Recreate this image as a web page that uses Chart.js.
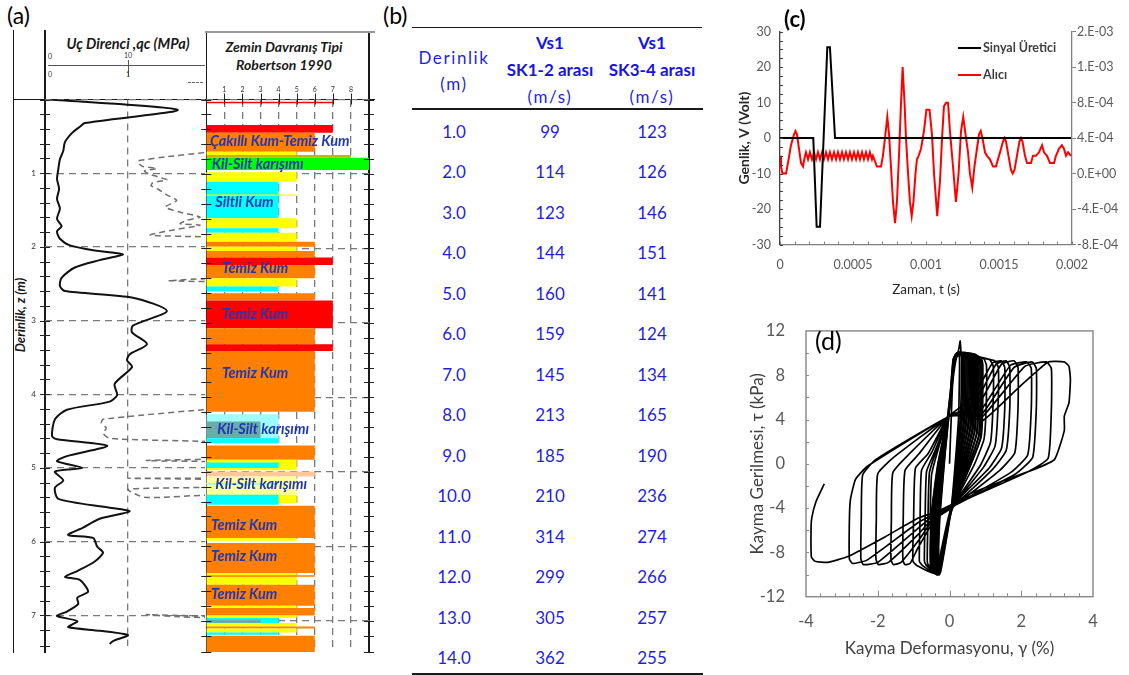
<!DOCTYPE html>
<html lang="tr">
<head>
<meta charset="utf-8">
<title>Zemin deneyleri</title>
<script src="https://cdn.jsdelivr.net/npm/chart.js@4.4.1/dist/chart.umd.min.js"></script>
<style>
  html, body { margin:0; padding:0; background:#fff; }
  #fig { position:relative; width:1129px; height:675px; overflow:hidden; font-family:Lato, "Open Sans", sans-serif; color:#000; }
  #fig canvas { position:absolute; }
  .t { position:absolute; white-space:nowrap; line-height:1; }
  .c { transform:translate(-50%, -50%); }
  .ln { position:absolute; background:#1a1a1a; }
  .tag { font-size:23px; }
  .hdr { font-weight:700; font-style:italic; font-size:14.5px; color:#1a1a1a; }
  .tiny { font-size:7px; color:#333; }
  .tb { color:#1f1fe0; font-size:17px; }
  .sp { letter-spacing:1.6px; }
  .bd { font-weight:700; color:#1414e6; }
</style>
</head>
<body>
<div id="fig">
  <!-- (a) CPT log -->
  <div class="t tag" style="left:7px; top:4px;">(a)</div>
  <div class="ln" style="left:12.5px; top:30px; width:1.5px; height:623px;"></div>
  <div class="ln" style="left:44.3px; top:30px; width:1.5px; height:623px;"></div>
  <div class="ln" style="left:205.5px; top:31px; width:1.5px; height:622px;"></div>
  <div class="ln" style="left:368.3px; top:31px; width:1.5px; height:622px;"></div>
  <div class="ln" style="left:13px; top:98.8px; width:362px; height:1.5px;"></div>
  <div class="ln" style="left:205px; top:30.5px; width:170px; height:2.5px; background:#9a9a9a;"></div>
  <div class="t c hdr" style="left:128px; top:44px;">Uç Direnci ,qc (MPa)</div>
  <div class="t c hdr" style="left:284px; top:47px; font-size:14px;">Zemin Davranış Tipi</div>
  <div class="t c hdr" style="left:284px; top:65px; font-size:14px;">Robertson 1990</div>
  <div class="ln" style="left:48px; top:64.5px; width:157px; height:1px; background:#555;"></div>
  <div class="ln" style="left:127.5px; top:60px; width:1px; height:16px; background:#555;"></div>
  <div class="t c tiny" style="left:50px; top:56px;">0</div>
  <div class="t c tiny" style="left:128px; top:55px;">10</div>
  <div class="t c tiny" style="left:50px; top:74px;">0</div>
  <div class="t c tiny" style="left:128px; top:74px;">1</div>
  <div style="position:absolute; left:188px; top:82px; width:15px; border-top:1.5px dashed #666;"></div>
  <div class="t hdr" style="left:20px; top:315px; transform:translate(-50%,-50%) rotate(-90deg); font-size:13px;">Derinlik, z (m)</div>
  <canvas id="qcChart" width="206" height="660" style="left:0; top:0;"></canvas>
  <canvas id="sbtChart" width="190" height="660" style="left:190px; top:0;"></canvas>

  <!-- (b) table -->
  <div class="t tag" style="left:383px; top:4px;">(b)</div>
  <div class="ln" style="left:412px; top:26.5px; width:290px; height:1.5px;"></div>
  <div class="ln" style="left:412px; top:108px; width:291px; height:2px;"></div>
  <div class="ln" style="left:412px; top:673px; width:291px; height:2px;"></div>
  <div id="tbl"></div>

  <!-- (c) signals -->
  <canvas id="sigChart" width="399" height="300" style="left:730px; top:0;"></canvas>
  <div class="t tag" style="left:784px; top:8px; font-weight:700; font-size:22px;">(c)</div>

  <!-- (d) stress-strain loops -->
  <canvas id="loopChart" width="399" height="375" style="left:730px; top:300px;"></canvas>
  <div class="t tag" style="left:815px; top:328px; font-size:25px;">(d)</div>
</div>

<script>
// ---------- (a) cone resistance and friction logs ----------
const qcDepth = [0.00,0.14,0.32,0.37,0.45,0.58,0.70,0.81,0.95,1.08,1.21,1.35,1.48,1.62,1.72,1.79,1.89,1.98,2.05,2.10,2.18,2.28,2.42,2.53,2.60,2.69,2.87,3.07,3.16,3.32,3.46,3.54,3.63,3.86,4.01,4.10,4.21,4.34,4.57,4.61,4.70,4.84,4.91,5.00,5.05,5.17,5.27,5.42,5.54,5.59,5.69,5.81,5.91,5.95,6.07,6.15,6.27,6.40,6.48,6.52,6.68,6.76,6.85,6.95,7.01,7.08,7.16,7.21,7.27,7.35,7.39];
const qcValue = [0.6,16.0,4.8,4.2,3.3,2.4,2.2,1.8,1.6,1.45,1.7,1.45,1.8,1.45,2.0,1.45,1.8,3.0,6.0,9.4,6.6,3.6,2.0,1.8,2.4,10.6,14.7,10.6,10.5,12.3,10.2,9.9,10.5,8.4,8.7,7.8,2.65,1.2,0.85,1.45,7.5,2.65,1.45,4.5,1.2,2.2,1.2,1.6,7.8,10.2,6.6,4.6,2.8,5.8,6.3,7.0,6.0,3.9,2.4,4.2,5.2,3.9,4.0,2.65,1.45,3.9,2.8,6.6,10.0,8.2,7.8];
const fsDepth = [0.68,0.72,0.78,0.835,0.88,0.91,0.937,0.97,1.01,1.058,1.09,1.13,1.17,1.215,1.30,1.37,1.46,1.53,1.595,1.64,1.685,1.707,1.77,1.84,1.863,1.89,2.43,2.46,2.50,4.18,4.21,4.34,4.39,4.46,4.53,4.60,4.64,4.66,4.85,4.90,4.94,5.12,5.14,5.17,5.25,5.29,5.40,5.44,6.96,6.99,7.02];
const fsValue = [2.4,1.93,1.45,1.12,1.14,1.18,1.35,1.2,1.25,1.39,1.47,1.3,1.28,1.36,1.48,1.59,1.45,1.63,1.87,1.71,1.63,1.87,1.55,1.27,1.87,2.4,2.4,1.48,2.4,2.4,1.91,0.70,0.68,0.74,0.70,0.78,1.9,2.4,2.4,1.22,2.4,2.4,1.0,2.4,2.4,1.0,1.2,2.4,2.4,1.22,2.4];

// ---------- (a) soil behaviour type layers (Robertson 1990) ----------
const sbtTop    = [0.030,0.342,0.446,0.701,0.745,0.781,0.977,1.103,1.275,1.595,1.729,1.788,1.909,1.976,2.034,2.123,2.221,2.400,2.513,2.601,2.701,3.071,3.286,3.376,4.226,4.325,4.550,4.647,4.839,4.875,4.996,5.063,5.152,5.309,5.309,5.456,5.890,5.957,6.360,6.390,6.517,6.799,6.830,6.929,6.964,6.987,7.031,7.077,7.103,7.157,7.201];
const sbtBase   = [0.051,0.446,0.701,0.745,0.781,0.946,1.103,1.595,1.292,1.729,1.788,1.909,1.976,2.034,2.123,2.221,2.400,2.513,2.580,2.701,3.071,3.286,3.376,4.195,4.615,4.550,4.615,4.839,4.980,4.950,5.063,5.309,5.174,5.420,5.443,5.890,5.926,6.360,6.517,6.410,6.799,6.830,6.929,6.964,7.031,7.031,7.077,7.103,7.157,7.188,7.420];
const sbtZone   = [7,7,6,5,8,9,5,4,5,5,4,5,6,5,6,7,6,5,4,6,7,6,7,6,4,3,4,6,5,4,6,5,4,5,4,6,5,6,5,6,6,5,6,5,4,3,5,6,5,4,6];
const sbtColour = ['red','red','orange','yellow','olive','green','yellow','cyan','yellow','yellow','cyan','yellow','orange','yellow','orange','red','orange','yellow','cyan','orange','red','orange','red','orange','paleCyan','teal','cyan','orange','yellow','cyan','peach','paleYellow','paleCyan','yellow','cyan','orange','yellow','orange','yellow','orange','orange','yellow','orange','yellow','cyan','teal','yellow','orange','yellow','cyan','orange'];
const sbtPalette = { red:'#ff0000', orange:'#ff8000', yellow:'#ffff00', olive:'#c8b400', green:'#00ff00', cyan:'#00ffff', paleCyan:'#9ffcfc', teal:'#6aacac', peach:'#ffc89a', paleYellow:'#ffff9c' };
const sbtLabelText  = ['Çakıllı Kum-Temiz Kum','Kil-Silt karışımı','Siltli Kum','Temiz Kum','Temiz Kum','Temiz Kum','Kil-Silt karışımı','Kil-Silt karışımı','Temiz Kum','Temiz Kum','Temiz Kum'];
const sbtLabelZone  = [0.2,0.3,0.5,0.87,0.87,0.87,0.6,0.5,0.26,0.26,0.26];
const sbtLabelDepth = [0.557,0.866,1.376,2.262,2.879,3.671,4.423,5.174,5.725,6.141,6.651];

// ---------- (b) shear wave velocities ----------
const vsDepth = [1.0,2.0,3.0,4.0,5.0,6.0,7.0,8.0,9.0,10.0,11.0,12.0,13.0,14.0];
const vsSK12  = [99,114,123,144,160,159,145,213,185,210,314,299,305,362];
const vsSK34  = [123,126,146,151,141,124,134,165,190,236,274,266,257,255];

// ---------- (c) bender element signals ----------
const tSource = [0,0.000228,0.000251,0.000274,0.000324,0.000342,0.000377,0.001993];
const vSource = [0,0,-25,-25,25.6,25.6,0,0];
const tReceiver = [0,0.0000068,0.0000171,0.0000411,0.0000548,0.0000753,0.0000959,0.0001062,0.0001164,0.0001301,0.0001438,0.0001575,0.0001712,
  0.000178,0.000192,0.000205,0.000219,0.000233,0.000247,0.000260,0.000274,0.000288,0.000301,0.000315,0.000329,0.000342,0.000356,0.000370,0.000384,0.000397,0.000411,0.000425,0.000438,0.000452,0.000466,0.000479,0.000493,0.000507,0.000521,0.000534,0.000548,0.000562,0.000575,0.000589,0.000603,0.000616,0.000630,
  0.000637,0.000664,0.000692,0.000705,0.000719,0.000735,0.000747,0.000760,0.000774,0.000788,0.000801,0.000815,0.000829,0.000840,0.000853,0.000863,0.000877,0.000890,0.000902,0.000914,0.000928,0.000938,0.000949,0.000966,0.000986,0.001003,0.001024,0.001041,0.001055,0.001077,0.001096,0.001110,0.001123,0.001137,0.001151,0.001164,0.001185,0.001205,0.001223,0.001240,0.001255,0.001271,0.001288,0.001301,0.001317,0.001332,0.001349,0.001363,0.001375,0.001387,0.001404,0.001418,0.001438,0.001459,0.001479,0.001493,0.001514,0.001527,0.001538,0.001548,0.001565,0.001582,0.001594,0.001606,0.001623,0.001640,0.001651,0.001661,0.001678,0.001692,0.001719,0.001733,0.001753,0.001774,0.001795,0.001808,0.001829,0.001849,0.001877,0.001890,0.001911,0.001931,0.001945,0.001959,0.001973,0.001993];
const vReceiver = [0.0002,0.00008,0,0,0.00012,0.00032,0.00044,0.00048,0.00044,0.00028,0.00012,0.00008,0.0002,
  0.00024,0.00016,0.00024,0.00016,0.00024,0.00016,0.00024,0.00016,0.00024,0.00016,0.00024,0.00016,0.00024,0.00016,0.00024,0.00016,0.00024,0.00016,0.00024,0.00016,0.00024,0.00016,0.00024,0.00016,0.00024,0.00016,0.00024,0.00016,0.00024,0.00016,0.00024,0.00016,0.00024,0.00016,
  0.0002,0.00008,0.00008,0.0002,0.0004,0.00064,0.00044,0.00008,-0.00032,-0.00056,-0.00032,0.0002,0.0008,0.0012,0.0008,0.0004,0,-0.00032,-0.00048,-0.00032,0,0.00016,0.0002,0.00028,0.00048,0.00072,0.00072,0.00044,0,-0.00048,-0.00008,0.0004,0.00076,0.0008,0.0008,0.00048,0.00008,-0.00032,0,0.00048,0.00064,0.00044,0.00024,0,-0.00016,0.00008,0.00028,0.00044,0.00048,0.0004,0.00024,0.0002,0.00016,0.00008,0.00008,0.00016,0.00028,0.00036,0.0004,0.00036,0.0002,0.00004,0,0.00004,0.0002,0.00036,0.0004,0.00036,0.0002,0.00012,0.00012,0.0002,0.0002,0.00024,0.00032,0.00024,0.0002,0.00012,0.00012,0.0002,0.00028,0.00032,0.00028,0.0002,0.00024,0.0002];

// ---------- (d) cyclic shear loops: [strain %, stress kPa] pairs ----------
const earlyCycles = [
  [0,0, 0.05,4.3, 0.12,9.5, 0.22,10.0, 0.28,9.6, 0.25,4.0, 0.05,-4.0, -0.25,-9.8, -0.30,-9.3],
  [-0.28,-5.5, -0.12,1.0, -0.02,4.3, 0.10,9.4, 0.24,10.1, 0.30,11.1, 0.32,10.0, 0.34,9.5, 0.30,4.0, 0.06,-3.9, -0.27,-9.9, -0.33,-9.4],
  [-0.31,-5.6, -0.14,0.8, -0.02,4.3, 0.11,9.5, 0.26,10.1, 0.36,9.9, 0.40,9.4, 0.36,4.2, 0.05,-4.0, -0.28,-9.9, -0.36,-9.4],
  [-0.34,-5.4, -0.16,0.7, -0.03,4.3, 0.13,9.6, 0.30,10.0, 0.42,9.9, 0.46,9.3, 0.42,4.0, 0.05,-4.1, -0.29,-10.0, -0.38,-9.3],
  [-0.36,-5.5, -0.18,0.6, -0.03,4.3, 0.14,9.7, 0.35,10.0, 0.48,9.8, 0.52,9.3, 0.48,3.8, 0.04,-4.1, -0.30,-9.9, -0.40,-9.4],
  [-0.38,-5.3, -0.20,0.5, -0.04,4.3, 0.15,9.7, 0.40,10.0, 0.54,9.8, 0.58,9.2, 0.54,3.6, 0.04,-4.2, -0.31,-10.0, -0.42,-9.3],
  [-0.40,-5.2, -0.22,0.4, -0.04,4.3, 0.16,9.8, 0.45,10.0, 0.60,9.8, 0.64,9.2, 0.60,3.4, 0.05,-4.2, -0.32,-9.9, -0.44,-9.3],
  [-0.42,-5.1, -0.24,0.3, -0.04,4.3, 0.17,9.8, 0.50,10.0, 0.66,9.7, 0.70,9.1, 0.66,3.2, 0.05,-4.2, -0.33,-10.0, -0.46,-9.2],
  [-0.44,-5.0, -0.26,0.2, -0.05,4.3, 0.18,9.9, 0.55,10.0, 0.72,9.7, 0.76,9.1, 0.71,3.0, 0.05,-4.3, -0.34,-9.9, -0.48,-9.2],
  [-0.46,-4.9, -0.28,0.1, -0.05,4.3, 0.19,9.9, 0.60,9.9, 0.78,9.6, 0.82,9.0, 0.77,2.8, 0.05,-4.3, -0.35,-10.0, -0.50,-9.2],
  [-0.48,-4.8, -0.30,0.0, -0.05,4.3, 0.20,9.9, 0.65,9.9, 0.84,9.6, 0.88,9.0, 0.83,2.6, 0.05,-4.3, -0.35,-9.9, -0.53,-9.1],
  [-0.51,-4.7, -0.33,-0.1, -0.05,4.3, 0.20,10.0, 0.70,9.9, 0.89,9.5, 0.93,8.9, 0.88,2.4, 0.05,-4.3, -0.36,-9.9, -0.56,-9.1]
];
const middleCycles = [
  [-0.30,-5.4, -0.13,0.9, -0.02,4.3, 0.11,9.5, 0.25,10.0, 0.33,9.8, 0.37,9.3, 0.33,4.1, 0.05,-4.0, -0.28,-10.0, -0.35,-9.4],
  [-0.33,-5.5, -0.15,0.8, -0.03,4.3, 0.12,9.6, 0.28,10.0, 0.39,9.9, 0.43,9.3, 0.39,3.9, 0.05,-4.1, -0.29,-9.9, -0.37,-9.3],
  [-0.35,-5.4, -0.17,0.6, -0.03,4.3, 0.13,9.7, 0.33,10.0, 0.45,9.8, 0.49,9.2, 0.45,3.7, 0.04,-4.1, -0.30,-10.0, -0.39,-9.3],
  [-0.37,-5.3, -0.19,0.5, -0.04,4.3, 0.14,9.7, 0.38,10.0, 0.51,9.8, 0.55,9.2, 0.51,3.5, 0.04,-4.2, -0.31,-9.9, -0.41,-9.3],
  [-0.39,-5.2, -0.21,0.4, -0.04,4.3, 0.15,9.8, 0.43,10.0, 0.57,9.8, 0.61,9.2, 0.57,3.3, 0.05,-4.2, -0.32,-10.0, -0.43,-9.2],
  [-0.41,-5.1, -0.23,0.3, -0.04,4.3, 0.16,9.8, 0.48,10.0, 0.63,9.7, 0.67,9.1, 0.63,3.1, 0.05,-4.2, -0.33,-9.9, -0.45,-9.2],
  [-0.43,-5.0, -0.25,0.2, -0.05,4.3, 0.17,9.9, 0.53,10.0, 0.69,9.7, 0.73,9.1, 0.69,2.9, 0.05,-4.3, -0.34,-10.0, -0.47,-9.2],
  [-0.45,-4.9, -0.27,0.1, -0.05,4.3, 0.18,9.9, 0.58,9.9, 0.75,9.6, 0.79,9.0, 0.75,2.7, 0.05,-4.3, -0.35,-9.9, -0.49,-9.1],
  [-0.47,-4.8, -0.29,0.0, -0.05,4.3, 0.19,9.9, 0.63,9.9, 0.81,9.6, 0.85,9.0, 0.81,2.5, 0.05,-4.3, -0.35,-10.0, -0.52,-9.1],
  [-0.50,-4.7, -0.32,-0.1, -0.05,4.3, 0.20,10.0, 0.68,9.9, 0.87,9.5, 0.91,8.9, 0.86,2.3, 0.05,-4.3, -0.36,-9.9, -0.55,-9.1]
];
const lateCycles = [
  [-0.54,-5.0, -0.50,-1.0, -0.30,1.5, -0.03,4.3, 0.18,9.8, 0.60,9.8, 0.95,9.5, 1.03,8.9, 1.02,5.0, 0.96,2.2, 0.70,0.0, 0.05,-4.2, -0.34,-9.9, -0.58,-9.2, -0.62,-8.8],
  [-0.60,-5.0, -0.56,-0.8, -0.35,1.4, -0.03,4.3, 0.19,9.8, 0.70,9.7, 1.12,9.4, 1.22,8.8, 1.21,5.0, 1.14,1.9, 0.85,-0.2, 0.05,-4.1, -0.36,-9.9, -0.64,-9.2, -0.70,-8.8],
  [-0.68,-5.0, -0.64,-0.7, -0.40,1.2, -0.03,4.3, 0.21,9.7, 0.80,9.6, 1.26,9.3, 1.36,8.7, 1.35,5.0, 1.27,1.6, 0.95,-0.3, 0.05,-4.1, -0.38,-9.9, -0.75,-9.2, -0.84,-8.8],
  [-0.82,-5.0, -0.78,-0.6, -0.50,1.0, -0.02,4.3, 0.50,5.6, 0.93,7.6, 1.20,9.1, 1.44,9.3, 1.54,8.7, 1.54,5.0, 1.45,1.4, 1.10,-0.4, 0.05,-4.0, -0.40,-9.9, -0.90,-9.2, -1.02,-8.8],
  [-1.00,-5.0, -0.95,-0.4, -0.60,0.9, -0.02,4.3, 0.50,5.0, 0.93,6.8, 1.30,9.0, 1.58,9.3, 1.68,8.7, 1.68,5.0, 1.58,1.2, 1.20,-0.5, 0.05,-4.0, -0.40,-5.0, -0.88,-7.6, -1.10,-9.0, -1.24,-9.1, -1.30,-8.7],
  [-1.29,-5.0, -1.24,-0.6, -0.85,0.9, -0.01,4.3, 0.50,4.8, 0.93,6.0, 1.45,9.0, 1.80,9.3, 1.91,8.7, 1.91,5.0, 1.82,1.0, 1.40,-0.6, 0.05,-4.0, -0.40,-4.8, -0.88,-7.0, -1.35,-8.9, -1.56,-9.1, -1.63,-8.7],
  [-1.62,-5.0, -1.58,-0.8, -1.15,0.8, 0.00,4.3, 0.50,4.6, 0.93,5.1, 1.70,8.9, 2.15,9.2, 2.28,8.6, 2.28,5.0, 2.18,0.8, 1.70,-0.8, 0.05,-3.9, -0.40,-4.7, -0.88,-6.4, -1.70,-8.9, -1.98,-9.1, -2.05,-8.6],
  [-2.04,-5.0, -2.00,-0.9, -1.55,0.6, 0.00,4.3, 0.50,4.5, 0.93,4.6, 1.80,8.7, 2.30,9.2, 2.42,8.6, 2.42,5.0, 2.32,0.6, 1.85,-0.9, 0.05,-3.9, -0.40,-4.6, -0.87,-5.8, -2.00,-8.9, -2.40,-9.1, -2.47,-8.6],
  [-2.46,-5.0, -2.42,-1.0, -2.05,0.4, 0.00,4.3, 0.50,4.4, 0.93,4.3, 2.10,8.8, 2.70,9.2, 2.84,8.6, 2.84,5.0, 2.75,0.5, 2.20,-0.7, 0.05,-3.8, -0.40,-4.5, -0.87,-5.3, -2.30,-8.7, -2.70,-9.0, -2.79,-8.6],
  [-2.79,-5.0, -2.76,-3.2, -2.62,-1.4, -2.28,-0.2, 0.00,4.3, 0.50,4.3, 0.93,3.9, 2.00,7.1, 2.75,9.2, 3.20,9.2, 3.33,8.8, 3.37,7.6, 3.33,5.5, 3.20,4.3, 3.20,3.0, 2.93,0.4, 2.37,-0.5, 1.44,-1.6, 0.51,-2.8, 0.05,-3.7, -0.35,-4.3, -0.87,-4.9, -1.80,-6.6, -2.85,-8.4, -3.40,-8.9, -3.75,-8.8, -3.85,-8.4, -3.86,-6.0, -3.84,-4.9, -3.72,-3.4, -3.49,-1.8]
];

// ---------- shared helpers ----------
Chart.defaults.font.family = 'Lato, "Open Sans", sans-serif';
Chart.defaults.animation = false;
Chart.defaults.events = [];
Chart.defaults.plugins.legend.display = false;
Chart.defaults.plugins.tooltip.enabled = false;

const CLEAR = 'rgba(0,0,0,0)';
function isMult(v, step) { const k = v / step; return Math.abs(k - Math.round(k)) < 1e-6; }
function toPoints(xs, ys) { return xs.map((x, i) => ({ x: x, y: ys[i] })); }
function pairsToPoints(list) {
  const pts = [];
  list.forEach(flat => { for (let i = 0; i < flat.length; i += 2) pts.push({ x: flat[i], y: flat[i + 1] }); });
  return pts;
}

// short tick marks crossing the plot edges, placed at the scale's own ticks
function edgeTicks(marks) {
  return {
    id: 'edgeTicks',
    afterDatasetsDraw(chart) {
      const ctx = chart.ctx, a = chart.chartArea;
      ctx.save();
      marks.forEach(m => {
        const sc = chart.scales[m.scale];
        ctx.strokeStyle = m.color; ctx.lineWidth = m.width;
        sc.ticks.forEach(t => {
          if (m.skip && m.skip(t.value)) return;
          const major = m.majorStep ? isMult(t.value, m.majorStep) : false;
          const inn = major ? m.majorIn : m.inLen;
          const out = major ? m.majorOut : m.outLen;
          const p = Math.round(sc.getPixelForValue(t.value)) + 0.5;
          m.edges.forEach(e => {
            ctx.beginPath();
            if (e === 'left')  { ctx.moveTo(a.left - out, p);  ctx.lineTo(a.left + inn, p); }
            if (e === 'right') { ctx.moveTo(a.right + out, p); ctx.lineTo(a.right - inn, p); }
            if (e === 'top')   { ctx.moveTo(p, a.top - out);   ctx.lineTo(p, a.top + inn); }
            if (e === 'bottom'){ ctx.moveTo(p, a.bottom + out);ctx.lineTo(p, a.bottom - inn); }
            ctx.stroke();
          });
        });
      });
      ctx.restore();
    }
  };
}

function depthAxis(width, showLabels) {
  return {
    type: 'linear', position: 'left', reverse: true, min: 0, max: 7.42,
    ticks: { display: showLabels, stepSize: 0.2, autoSkip: false, padding: 9, color: '#333', font: { size: 8 },
             callback: v => (isMult(v, 1) && v > 0.5) ? String(Math.round(v)) : '' },
    grid: { drawTicks: false, lineWidth: 1.3, color: c => isMult(c.tick.value, 1) ? '#7a7a7a' : CLEAR },
    border: { display: false, dash: [7, 5] },
    afterFit: s => { s.width = width; }
  };
}

// ---------- (a) left track: qc and friction ----------
new Chart(document.getElementById('qcChart'), {
  type: 'scatter',
  data: { datasets: [
    { label: 'qc', data: toPoints(qcValue, qcDepth), xAxisID: 'x', yAxisID: 'y', showLine: true,
      borderColor: '#111', borderWidth: 2, pointRadius: 0, tension: 0.25 },
    { label: 'fs', data: toPoints(fsValue, fsDepth), xAxisID: 'x2', yAxisID: 'y', showLine: true,
      borderColor: '#707070', borderWidth: 1.5, borderDash: [6, 4], pointRadius: 0, tension: 0.2 }
  ]},
  options: {
    responsive: false,
    layout: { padding: { left: 0, right: 1, top: 99.5, bottom: 0 } },
    scales: {
      x: { type: 'linear', position: 'bottom', min: 0, max: 19.3,
           ticks: { display: false, stepSize: 10 },
           grid: { drawTicks: false, lineWidth: 1.3, color: c => (Math.abs(c.tick.value - 10) < 1e-6) ? '#7a7a7a' : CLEAR },
           border: { display: false, dash: [7, 5] },
           afterFit: s => { s.height = 8; } },
      x2: { type: 'linear', display: false, min: 0, max: 1.93 },
      y: depthAxis(45, true)
    }
  },
  plugins: [edgeTicks([{ scale: 'y', edges: ['left'], inLen: 5, outLen: 5, color: '#222', width: 1 }])]
});

// ---------- (a) right track: soil behaviour type ----------
const sbtDatasets = sbtTop.map((top, i) => ({
  label: sbtColour[i],
  data: [ { x: 0, y: top }, { x: sbtZone[i], y: top }, { x: sbtZone[i], y: sbtBase[i] }, { x: 0, y: sbtBase[i] }, { x: 0, y: top } ],
  showLine: true, fill: 'shape', backgroundColor: sbtPalette[sbtColour[i]],
  borderColor: CLEAR, borderWidth: 0, pointRadius: 0, order: sbtTop.length - i
}));

const sbtText = {
  id: 'sbtText',
  afterDatasetsDraw(chart) {
    const ctx = chart.ctx, xs = chart.scales.x, ys = chart.scales.y;
    ctx.save();
    ctx.font = 'italic 700 14.5px Lato, "Open Sans", sans-serif';
    ctx.fillStyle = '#2036b4';
    ctx.textBaseline = 'middle';
    sbtLabelText.forEach((txt, i) => {
      ctx.fillText(txt, xs.getPixelForValue(sbtLabelZone[i]), ys.getPixelForValue(sbtLabelDepth[i]));
    });
    ctx.restore();
  }
};

new Chart(document.getElementById('sbtChart'), {
  type: 'scatter',
  data: { datasets: sbtDatasets },
  options: {
    responsive: false,
    layout: { padding: { left: 16.3, right: 11, top: 0, bottom: 8 } },
    scales: {
      x: { type: 'linear', position: 'top', min: 0, max: 9,
           ticks: { stepSize: 1, autoSkip: false, padding: 6, color: '#333', font: { size: 7 },
                    callback: v => (v >= 1 && v <= 8) ? String(Math.round(v)) : '' },
           grid: { drawTicks: false, lineWidth: 1.3, color: c => (c.tick.value >= 1 && c.tick.value <= 8) ? '#7a7a7a' : CLEAR },
           border: { display: false, dash: [7, 5] },
           afterFit: s => { s.height = 99.5; } },
      y: depthAxis(0, false)
    }
  },
  plugins: [sbtText, edgeTicks([
    { scale: 'y', edges: ['left', 'right'], inLen: 5, outLen: 5, color: '#222', width: 1 },
    { scale: 'x', edges: ['top'], inLen: 5, outLen: 6, color: '#222', width: 1, skip: v => v < 0.5 || v > 8.5 }
  ])]
});

// ---------- (b) table ----------
(function buildTable() {
  const host = document.getElementById('tbl');
  const colX = [454, 550, 652];
  const add = (x, y, text, cls) => {
    const d = document.createElement('div');
    d.className = 't c tb ' + (cls || '');
    d.style.left = x + 'px'; d.style.top = y + 'px';
    d.textContent = text;
    host.appendChild(d);
  };
  add(colX[0], 57, 'Derinlik', 'sp');
  add(colX[0], 83, '(m)', 'sp');
  add(colX[1], 42, 'Vs1', 'bd');
  add(colX[1], 69, 'SK1-2 arası', 'bd');
  add(colX[1], 96, '(m/s)', 'sp');
  add(colX[2], 42, 'Vs1', 'bd');
  add(colX[2], 69, 'SK3-4 arası', 'bd');
  add(colX[2], 96, '(m/s)', 'sp');
  vsDepth.forEach((d, i) => {
    const y = 131 + i * 40.46;
    add(colX[0], y, d.toFixed(1));
    add(colX[1], y, String(vsSK12[i]));
    add(colX[2], y, String(vsSK34[i]));
  });
})();

// ---------- (c) signals ----------
function excelExp(v) {
  const s = Number(v).toExponential(0);
  const [m, e] = s.split('e');
  const n = parseInt(e, 10);
  return m + '.E' + (n < 0 ? '-' : '+') + String(Math.abs(n)).padStart(2, '0');
}
const sigLegend = {
  id: 'sigLegend',
  afterDraw(chart) {
    const ctx = chart.ctx;
    ctx.save();
    ctx.font = '700 12.5px Lato, "Open Sans", sans-serif';
    ctx.textBaseline = 'middle';
    chart.data.datasets.forEach((ds, i) => {
      const y = 48 + i * 27;
      ctx.strokeStyle = ds.borderColor; ctx.lineWidth = 2;
      ctx.beginPath(); ctx.moveTo(228, y); ctx.lineTo(251, y); ctx.stroke();
      ctx.fillStyle = '#404040';
      ctx.fillText(ds.label, 253, y);
    });
    ctx.restore();
  }
};
new Chart(document.getElementById('sigChart'), {
  type: 'scatter',
  data: { datasets: [
    { label: 'Sinyal Üretici', data: toPoints(tSource, vSource), yAxisID: 'y', showLine: true,
      borderColor: '#000', borderWidth: 2, pointRadius: 0 },
    { label: 'Alıcı', data: toPoints(tReceiver, vReceiver), yAxisID: 'y2', showLine: true,
      borderColor: '#ff0000', borderWidth: 2, pointRadius: 0 }
  ]},
  options: {
    responsive: false,
    layout: { padding: { left: 0, right: 0, top: 31.7, bottom: 0 } },
    scales: {
      x: { type: 'linear', min: 0, max: 0.002,
           ticks: { stepSize: 0.0001, autoSkip: false, maxRotation: 0, padding: 13, color: '#595959', font: { size: 12.5 },
                    callback: v => isMult(v, 0.0005) ? String(+Number(v).toFixed(4)) : '' },
           grid: { drawOnChartArea: false, drawTicks: false },
           border: { color: '#7f7f7f', width: 1.3 },
           title: { display: true, text: 'Zaman, t (s)', color: '#262626', font: { size: 13.5 }, padding: { top: 0, bottom: 2 } },
           afterFit: s => { s.height = 55.5; } },
      y: { position: 'left', min: -30, max: 30,
           ticks: { stepSize: 2.5, autoSkip: false, padding: 9, color: '#595959', font: { size: 12.5 },
                    callback: v => isMult(v, 10) ? String(Math.round(v)) : '' },
           grid: { drawOnChartArea: false, drawTicks: false },
           border: { color: '#404040', width: 1.3 },
           title: { display: true, text: 'Genlik, V (Volt)', color: '#262626', font: { size: 14, weight: 'bold' }, padding: { top: 6, bottom: 0 } },
           afterFit: s => { s.width = 50; } },
      y2: { position: 'right', min: -0.0008, max: 0.0016,
            ticks: { stepSize: 0.0004, padding: 1, color: '#595959', font: { size: 12.5 }, callback: v => excelExp(v) },
            grid: { drawOnChartArea: false, drawTicks: true, tickLength: 4, tickColor: '#7f7f7f' },
            border: { color: '#7f7f7f', width: 1.3 },
            afterFit: s => { s.width = 57; } }
    }
  },
  plugins: [sigLegend, edgeTicks([
    { scale: 'x', edges: ['bottom'], inLen: 3, outLen: 0, color: '#7f7f7f', width: 1 },
    { scale: 'y', edges: ['left'], inLen: 3, outLen: 0, color: '#404040', width: 1 }
  ])]
});

// ---------- (d) stress-strain loops ----------
const frameBox = {
  id: 'frameBox',
  afterDatasetsDraw(chart) {
    const a = chart.chartArea, ctx = chart.ctx;
    ctx.save(); ctx.strokeStyle = '#8c8c8c'; ctx.lineWidth = 1.5;
    ctx.strokeRect(a.left, a.top, a.right - a.left, a.bottom - a.top);
    ctx.restore();
  }
};
const loopStyle = { showLine: true, borderColor: '#000', borderWidth: 1.7, pointRadius: 0, tension: 0.15 };
new Chart(document.getElementById('loopChart'), {
  type: 'scatter',
  data: { datasets: [
    Object.assign({ label: 'Erken çevrimler', data: pairsToPoints(earlyCycles) }, loopStyle),
    Object.assign({ label: 'Ara çevrimler', data: pairsToPoints(middleCycles) }, loopStyle),
    Object.assign({ label: 'Geç çevrimler', data: pairsToPoints(lateCycles) }, loopStyle)
  ]},
  options: {
    responsive: false,
    layout: { padding: { left: 0, right: 36, top: 21.7, bottom: 0 } },
    scales: {
      x: { min: -4, max: 4,
           ticks: { stepSize: 0.4, autoSkip: false, maxRotation: 0, padding: 15, color: '#595959', font: { size: 16.5 },
                    callback: v => isMult(v, 2) ? String(Math.round(v)) : '' },
           grid: { drawOnChartArea: false, drawTicks: false },
           border: { display: false },
           title: { display: true, text: 'Kayma Deformasyonu, γ (%)', color: '#404040', font: { size: 17 }, padding: { top: 0, bottom: 16 } },
           afterFit: s => { s.height = 78.3; } },
      y: { min: -12, max: 12,
           ticks: { stepSize: 2, autoSkip: false, padding: 21, color: '#595959', font: { size: 16.5 },
                    callback: v => isMult(v, 4) ? String(Math.round(v)) : '' },
           grid: { drawOnChartArea: false, drawTicks: false },
           border: { display: false },
           title: { display: true, text: 'Kayma Gerilmesi, τ (kPa)', color: '#404040', font: { size: 17 }, padding: { top: 17, bottom: 0 } },
           afterFit: s => { s.width = 76; } }
    }
  },
  plugins: [frameBox, edgeTicks([
    { scale: 'x', edges: ['bottom'], inLen: 3.5, outLen: 0, majorStep: 2, majorIn: 6, majorOut: 0, color: '#8c8c8c', width: 1,
      skip: v => v < -3.9 || v > 3.9 },
    { scale: 'y', edges: ['left'], inLen: 3, outLen: 0, color: '#8c8c8c', width: 1, skip: v => v < -11.9 || v > 11.9 }
  ])]
});
</script>
</body>
</html>
